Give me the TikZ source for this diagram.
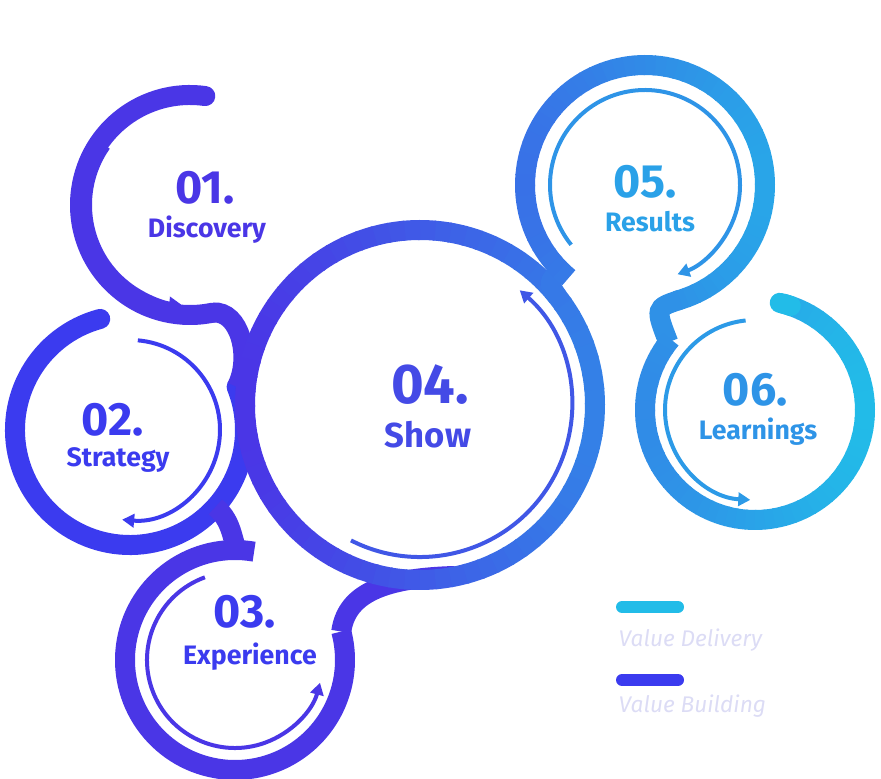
\documentclass[tikz,border=0pt]{standalone}
\usepackage{fontspec}
\setmainfont{Fira Sans}
\usetikzlibrary{arrows.meta,calc}
\definecolor{lv}{HTML}{4A36E6}
\definecolor{lb}{HTML}{3B3BEF}
\definecolor{lc}{HTML}{22BCE8}
\definecolor{lg}{HTML}{DCDCF5}
% ring piece by piece, colour taken from x position
\newcommand\ringarc[6]{%
  \foreach \a in {#4,#5,...,#6}{%
    \pgfmathsetmacro\px{min(100,max(0,((#1+#3*cos(\a+2.5))-250)/6.2))}%
    \draw[ring,color=lc!\px!lv] ($(#1,#2)+(\a:#3)$) arc[start angle=\a,end angle=\a+5.6,radius=#3*0.75pt];
  }}
\begin{document}
\begin{tikzpicture}[x=0.75pt,y=0.75pt,
  ring/.style={line width=15pt},
  inarr/.style={line width=3pt,-{Triangle[length=9pt,width=10pt]}},
  num/.style={font=\fontsize{35}{40}\selectfont\bfseries},
  big/.style={font=\fontsize{42}{48}\selectfont\bfseries},
  lab/.style={font=\fontsize{20}{24}\selectfont\bfseries},
  leg/.style={font=\fontsize{17}{20}\selectfont\itshape,text=lg,anchor=west}]
\useasboundingbox (0,0) rectangle (881,778);
% outer rings
\draw[ring,lv,line cap=round] (190,573)++(82:110) arc[start angle=82,end angle=282,radius=82.5pt]
  coordinate (d1);
\draw[ring,lb,line cap=round] (130,348)++(105:115) arc[start angle=105,end angle=382,radius=86.25pt]
  coordinate (s1);
\draw[ring,lv] (d1) .. controls (240,468) and (252,420) .. (s1);
\coordinate (s2) at ($(130,348)+(318:115)$);
\coordinate (e0) at ($(235,118)+(88:110)$);
\draw[ring,lv] (s2) .. controls (235,255) and (232,230) .. (e0);
\draw[ring,lv] (235,118)++(80:110) arc[start angle=80,end angle=375,radius=82.5pt]
  coordinate (e1);
\draw[ring,lv] (e1) .. controls (346,180) and (375,200) .. (455,202);
\ringarc{420}{373}{175}{0}{5}{355}
\coordinate (r0) at ($(645,593)+(225:120)$);
\coordinate (h0) at ($(420,373)+(38:175)$);
\draw[ring,color=lc!50!lv] (r0) .. controls (548,495) .. (h0);
\ringarc{645}{593}{120}{-75}{-70}{225}
\coordinate (r1) at ($(645,593)+(-73:120)$);
\coordinate (q0) at ($(755,368)+(142:110)$);
\draw[ring,color=lc!68!lv] (r1) .. controls (655,470) .. (q0);
\ringarc{755}{368}{110}{140}{145}{430}
\draw[ring,lc,line cap=round] (755,368)++(71:110) arc[start angle=71,end angle=77,radius=82.5pt];
% inner arrows
\draw[inarr,lv] (190,573)++(145:100) arc[start angle=145,end angle=265,radius=75pt];
\draw[inarr,lb] (130,348)++(85:90) arc[start angle=85,end angle=-95,radius=67.5pt];
\draw[inarr,lv] (235,118)++(110:88) arc[start angle=110,end angle=345,radius=66pt];
\draw[inarr,color=lc!25!lv] (420,373)++(-117:152) arc[start angle=-117,end angle=49,radius=114pt];
\draw[inarr,color=lc!70!lv] (645,593)++(-141:95) arc[start angle=-141,end angle=-430,radius=71.25pt];
\draw[inarr,color=lc!75!lv] (755,368)++(96:90) arc[start angle=96,end angle=267,radius=67.5pt];
% labels
\node[num,text=lv] (n1) at (205,590) {01.};
\node[lab,text=lv] (t1) at (207,548) {Discovery};
\node[num,text=lb] (n2) at (113,358) {02.};
\node[lab,text=lb] (t2) at (118,318) {Strategy};
\node[num,text=lb] (n3) at (245,166) {03.};
\node[lab,text=lb] (t3) at (250,121) {Experience};
\node[big,text=lc!15!lv] (n4) at (430,393) {04.};
\node[lab,text=lc!15!lv,font=\fontsize{26}{30}\selectfont\bfseries] (t4) at (428,343) {Show};
\node[num,text=lc!80!lv] (n5) at (645,596) {05.};
\node[lab,text=lc!80!lv] (t5) at (650,556) {Results};
\node[num,text=lc!70!lv] (n6) at (755,388) {06.};
\node[lab,text=lc!70!lv] (t6) at (758,346) {Learnings};
% legend
\draw[line width=9pt,line cap=round,lc] (622,171) -- (678,171);
\node[leg] (l1) at (614,138) {Value Delivery};
\draw[line width=9pt,line cap=round,lb] (622,98) -- (678,98);
\node[leg] (l2) at (614,72) {Value Building};
\end{tikzpicture}
\end{document}
